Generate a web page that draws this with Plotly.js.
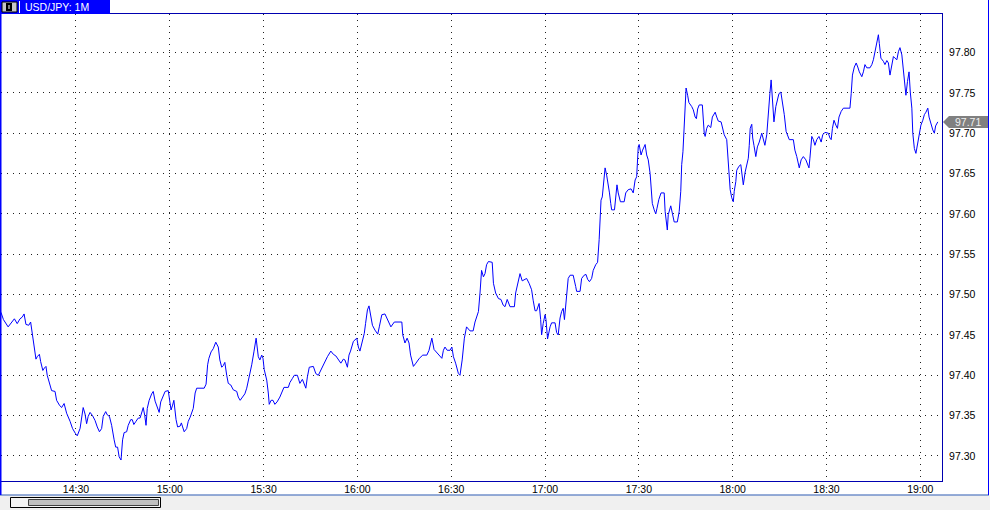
<!DOCTYPE html>
<html>
<head>
<meta charset="utf-8">
<script src="https://cdn.plot.ly/plotly-3.0.1.min.js"></script>
<style>html,body{margin:0;padding:0;background:#fff;}#chart{width:990px;height:510px;}</style>
</head>
<body>
<div id="chart"></div>
<script>
// Minutes after 14:00 for each sampled 1-minute close
const minutes = [
6.0,6.8,8.3,9.4,10.3,11.2,12.1,12.8,13.4,14.0,
14.9,15.5,15.9,16.3,16.8,17.2,17.6,18.3,18.7,19.4,
19.9,20.4,20.8,21.5,22.2,23.3,23.8,24.7,25.4,26.2,
27.0,28.1,28.9,29.8,30.4,31.3,31.6,32.3,32.9,33.4,
33.9,34.5,35.3,36.1,36.8,37.5,38.2,38.7,39.5,40.0,
40.7,41.4,42.2,42.7,43.3,43.8,44.4,44.9,45.4,46.2,
46.7,47.5,48.0,48.5,49.2,49.9,50.5,51.0,51.5,52.0,
52.4,52.8,53.4,54.2,54.7,55.3,56.0,56.6,57.1,57.7,
58.5,59.5,59.8,60.4,60.9,61.3,62.0,62.5,63.3,63.7,
64.1,64.6,65.4,65.9,66.5,
67.0,67.5,68.1,68.6,71.0,71.6,72.1,72.5,73.2,73.9,
74.7,75.5,76.0,76.6,77.1,77.6,78.2,78.7,79.5,80.3,
81.4,81.9,82.5,83.2,84.0,84.6,85.3,86.2,86.9,87.6,
88.3,88.8,89.4,89.8,90.2,91.0,91.5,91.8,92.4,93.0,
93.6,94.3,95.2,96.0,96.5,97.9,98.4,99.2,99.8,100.8,
101.6,102.4,103.0,103.5,104.0,104.6,105.9,106.7,107.5,108.0,
108.8,109.6,110.4,111.5,112.3,113.1,113.9,114.7,115.5,116.0,
116.8,117.3,117.8,118.7,119.8,120.3,120.8,121.6,122.2,122.6,
123.2,123.7,124.2,124.8,125.6,126.5,127.0,
127.8,128.8,129.6,130.7,131.8,134.2,134.5,135.2,135.9,136.5,
137.0,137.9,138.7,139.8,140.9,142.2,142.9,143.8,144.5,145.4,
146.4,147.0,147.5,148.0,148.7,149.6,150.2,150.7,151.4,152.3,
152.8,153.5,154.2,154.9,156.0,157.0,157.6,158.7,159.2,159.7,
160.3,160.8,161.3,161.9,163.1,163.5,164.2,165.1,165.9,166.6,
167.2,167.9,168.8,170.2,170.6,171.3,172.0,172.7,173.4,174.1,
174.9,175.7,176.2,176.8,177.3,178.1,178.6,178.9,179.4,180.0,
180.3,180.8,181.6,182.1,183.2,183.7,184.2,184.8,185.3,185.8,
186.2,186.9,187.4,188.0,189.0,189.8,190.1,191.2,191.7,192.5,
193.1,193.6,194.2,194.9,195.4,196.2,196.8,197.3,197.7,197.9,
198.3,198.8,199.2,199.7,200.2,200.6,201.0,201.3,202.2,202.6,
203.0,203.4,204.1,205.3,205.8,206.6,207.5,208.2,208.8,209.3,
209.8,210.1,210.7,211.2,212.0,212.5,213.0,213.6,213.9,214.3,
214.9,215.4,215.8,216.4,217.1,218.1,218.4,218.7,219.1,219.4,
220.2,220.7,221.3,222.3,222.9,223.4,223.7,224.1,224.5,224.8,
225.1,225.6,226.0,226.9,227.4,228.0,228.4,228.8,229.3,230.3,
230.6,230.9,231.2,231.7,232.2,233.0,233.5,234.4,234.9,235.4,
236.3,236.7,237.3,238.1,238.4,238.8,239.2,239.7,240.2,240.5,
241.0,241.3,242.0,242.6,242.9,243.4,244.0,244.5,245.0,245.3,
245.6,246.1,246.4,246.8,247.4,247.9,248.5,
249.3,249.8,250.3,250.9,251.2,251.6,251.9,252.3,252.5,252.8,
253.2,253.8,254.3,254.8,255.4,255.9,256.5,257.1,257.6,258.1,
259.4,259.9,260.5,261.0,261.3,261.9,262.6,263.4,264.0,264.4,
264.7,265.3,265.8,266.3,266.9,267.6,268.3,268.8,269.5,270.6,
271.1,271.5,271.9,272.4,273.0,273.5,274.0,274.7,275.4,277.5,
277.9,278.3,278.9,279.5,280.0,280.5,281.3,281.8,282.3,282.9,
283.9,284.5,285.0,285.5,286.1,286.6,286.9,287.4,288.2,288.7,
289.3,289.8,290.3,290.9,291.4,291.9,292.5,293.0,293.5,294.1,
294.6,295.1,295.4,295.9,296.4,296.8,297.3,297.6,298.1,298.6,
299.2,299.7,300.2,300.8,301.3,301.8,302.4,302.8,303.3,304.0,
304.5,304.9,305.6
];

// USD/JPY price at each sample
const usdjpy = [
97.478,97.469,97.460,97.466,97.470,97.464,97.470,97.472,97.476,97.463,
97.462,97.466,97.454,97.444,97.431,97.420,97.423,97.426,97.417,97.406,
97.409,97.411,97.400,97.390,97.381,97.380,97.369,97.363,97.360,97.365,
97.353,97.343,97.334,97.328,97.325,97.334,97.343,97.360,97.352,97.340,
97.349,97.354,97.350,97.344,97.336,97.330,97.334,97.349,97.355,97.351,
97.349,97.338,97.320,97.311,97.311,97.299,97.295,97.320,97.329,97.330,
97.338,97.345,97.345,97.339,97.343,97.347,97.347,97.354,97.360,97.350,
97.338,97.359,97.369,97.377,97.380,97.368,97.361,97.354,97.367,97.373,
97.380,97.381,97.372,97.357,97.363,97.369,97.345,97.336,97.337,97.341,
97.336,97.330,97.334,97.343,97.348,
97.355,97.359,97.378,97.384,97.384,97.389,97.413,97.421,97.429,97.433,
97.441,97.435,97.419,97.410,97.412,97.416,97.400,97.390,97.388,97.382,
97.380,97.373,97.369,97.373,97.377,97.384,97.396,97.413,97.429,97.446,
97.423,97.419,97.425,97.421,97.407,97.394,97.378,97.364,97.369,97.369,
97.364,97.367,97.373,97.380,97.385,97.385,97.391,97.396,97.400,97.400,
97.390,97.395,97.390,97.384,97.398,97.410,97.411,97.402,97.400,97.404,
97.411,97.417,97.423,97.430,97.426,97.424,97.419,97.415,97.420,97.419,
97.410,97.425,97.430,97.442,97.446,97.435,97.430,97.442,97.452,97.464,
97.481,97.486,97.475,97.462,97.456,97.451,97.460,
97.475,97.476,97.469,97.460,97.466,97.466,97.450,97.440,97.446,97.440,
97.425,97.411,97.415,97.421,97.425,97.425,97.431,97.446,97.432,97.428,
97.424,97.421,97.431,97.435,97.431,97.431,97.435,97.423,97.415,97.402,
97.400,97.419,97.446,97.460,97.455,97.455,97.466,97.479,97.502,97.530,
97.522,97.526,97.537,97.541,97.540,97.514,97.502,97.495,97.494,97.487,
97.485,97.494,97.485,97.485,97.502,97.516,97.526,97.517,97.519,97.520,
97.514,97.506,97.493,97.480,97.480,97.489,97.469,97.450,97.464,97.475,
97.469,97.445,97.460,97.465,97.465,97.453,97.450,97.471,97.479,97.483,
97.469,97.502,97.520,97.524,97.524,97.510,97.504,97.504,97.520,97.524,
97.525,97.519,97.516,97.520,97.530,97.537,97.540,97.568,97.595,97.617,
97.621,97.648,97.657,97.648,97.638,97.626,97.613,97.605,97.605,97.623,
97.636,97.626,97.615,97.615,97.626,97.630,97.631,97.626,97.642,97.646,
97.683,97.686,97.673,97.679,97.686,97.673,97.667,97.650,97.632,97.613,
97.605,97.600,97.607,97.618,97.626,97.626,97.603,97.590,97.580,97.599,
97.610,97.601,97.590,97.590,97.603,97.628,97.661,97.677,97.708,97.733,
97.756,97.747,97.738,97.733,97.729,97.720,97.718,97.730,97.735,97.735,
97.714,97.700,97.696,97.706,97.710,97.707,97.720,97.726,97.720,97.715,
97.714,97.706,97.698,97.692,97.673,97.648,97.630,97.620,97.615,97.628,
97.640,97.654,97.659,97.661,97.648,97.636,97.652,97.661,97.669,97.685,
97.706,97.711,97.694,97.685,97.671,97.683,97.689,
97.700,97.694,97.685,97.698,97.716,97.737,97.749,97.766,97.751,97.735,
97.714,97.733,97.743,97.749,97.751,97.739,97.723,97.702,97.696,97.692,
97.692,97.679,97.671,97.661,97.657,97.667,97.671,97.667,97.661,97.657,
97.669,97.696,97.692,97.685,97.692,97.696,97.689,97.698,97.701,97.700,
97.694,97.692,97.706,97.716,97.710,97.706,97.720,97.727,97.731,97.731,
97.749,97.772,97.782,97.787,97.782,97.776,97.770,97.776,97.785,97.781,
97.781,97.785,97.791,97.801,97.816,97.822,97.811,97.793,97.789,97.785,
97.790,97.787,97.772,97.785,97.795,97.793,97.791,97.801,97.806,97.797,
97.776,97.760,97.747,97.764,97.776,97.751,97.731,97.700,97.681,97.675,
97.689,97.698,97.710,97.716,97.723,97.726,97.731,97.720,97.712,97.704,
97.700,97.709,97.714
];

const xTickVals = [30, 60, 90, 120, 150, 180, 210, 240, 270, 300];
const xTickText = ['14:30','15:00','15:30','16:00','16:30','17:00','17:30','18:00','18:30','19:00'];
const yTickVals = [97.30, 97.35, 97.40, 97.45, 97.50, 97.55, 97.60, 97.65, 97.70, 97.75, 97.80];
const chartTitle = 'USD/JPY: 1M';

const n = Math.min(minutes.length, usdjpy.length);
const xs = minutes.slice(0, n), ys = usdjpy.slice(0, n);
const last = ys[n - 1];

// page-pixel helpers for decoration (plot area: x 1..942, y 14..481)
const W = 990, H = 510, L = 1, R = 48, T = 14, B = 29;
const PW = W - L - R, PH = H - T - B;
const xp = px => (px - L) / PW;
const yp = py => (H - B - py) / PH;
function rect(x0, y0, x1, y1, fill, lc, lw) {
  return {type: 'rect', xref: 'paper', yref: 'paper', x0: xp(x0), x1: xp(x1), y0: yp(y0), y1: yp(y1),
    fillcolor: fill, line: {color: lc || fill, width: lw === undefined ? 0 : lw}, layer: 'above'};
}
function line(x0, y0, x1, y1, c, w) {
  return {type: 'line', xref: 'paper', yref: 'paper', x0: xp(x0), x1: xp(x1), y0: yp(y0), y1: yp(y1),
    line: {color: c, width: w || 1}, layer: 'above'};
}

const font = 'Liberation Sans, Arial, sans-serif';

const trace = {
  type: 'scatter', mode: 'lines', x: xs, y: ys,
  line: {color: '#0000ff', width: 1}, hoverinfo: 'skip'
};

const layout = {
  width: W, height: H,
  margin: {l: L, r: R, t: T, b: B, pad: 0},
  paper_bgcolor: '#ffffff', plot_bgcolor: '#ffffff',
  showlegend: false,
  font: {family: font, size: 10.5, color: '#000'},
  xaxis: {
    range: [6.02, 306.94], tickvals: xTickVals, ticktext: xTickText,
    showgrid: true, gridcolor: '#202020', gridwidth: 1, griddash: '1px,5px',
    zeroline: false, showline: true, linecolor: '#0000b0', linewidth: 1, mirror: true,
    ticks: '', ticklabelstandoff: -2, tickfont: {family: font, size: 10.5, color: '#000'}, fixedrange: true
  },
  yaxis: {
    side: 'right', range: [97.269, 97.8477], tickvals: yTickVals, tickformat: '.2f',
    showgrid: true, gridcolor: '#202020', gridwidth: 1, griddash: '1px,5px',
    zeroline: false, showline: true, linecolor: '#0000b0', linewidth: 1, mirror: false,
    ticks: '', ticklabelstandoff: 4, tickfont: {family: font, size: 10.5, color: '#000'}, fixedrange: true
  },
  shapes: [
    rect(0, 495.5, 990, 510, '#f0f0f0'),
    line(0, 495, 989, 495, '#2a58b0', 1),
    line(988.5, 0, 988.5, 495, '#0000ff', 1),
    line(0.5, 0, 0.5, 495, '#0000ff', 2),
    rect(0, 0, 110, 14, '#0000ff'),
    rect(2, 2, 17, 12, '#c8c8c8', '#000000', 1),
    rect(6, 3, 12, 11, '#000000'),
    rect(8.5, 5, 9.5, 9, '#ffffff'),
    line(19.5, 1, 19.5, 13, '#ffffff', 1),
    rect(10.5, 497.5, 160.5, 507.5, '#f4f4f4', '#000000', 1),
    rect(28.5, 499.5, 158.5, 505.5, '#c0c0c0', '#404040', 1),
    {type: 'path', xref: 'paper', yref: 'y', ysizemode: 'pixel', yanchor: last,
     path: 'M' + xp(943) + ',0 L' + xp(949) + ',6 L' + xp(988) + ',6 L' + xp(988) + ',-6 L' + xp(949) + ',-6 Z',
     fillcolor: '#808080', line: {width: 0}, layer: 'above'}
  ],
  annotations: [
    {xref: 'paper', yref: 'paper', x: xp(24), y: yp(7.5), xanchor: 'left', yanchor: 'middle',
     text: chartTitle, showarrow: false, font: {family: font, size: 10.5, color: '#ffffff'}, borderpad: 0},
    {xref: 'paper', yref: 'y', x: xp(968), y: last, xanchor: 'center', yanchor: 'middle',
     text: last.toFixed(2), showarrow: false, font: {family: font, size: 10.5, color: '#f0f0f0'}, borderpad: 0}
  ]
};

Plotly.newPlot('chart', [trace], layout, {staticPlot: true, displayModeBar: false});
</script>
</body>
</html>
